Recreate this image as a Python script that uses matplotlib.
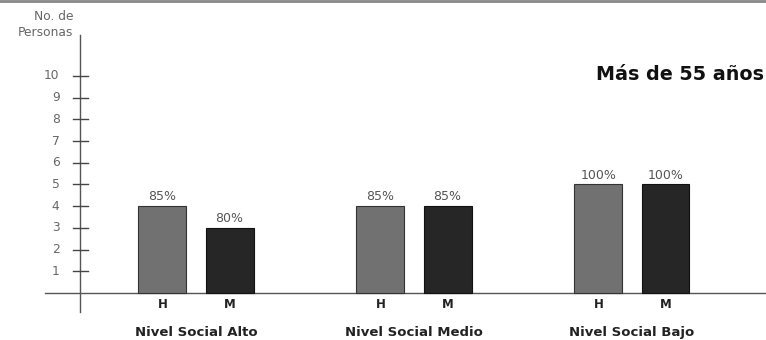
import matplotlib
matplotlib.use("Agg")
import matplotlib.pyplot as plt

groups = ["Nivel Social Alto", "Nivel Social Medio", "Nivel Social Bajo"]
sexes = ["H", "M"]
values_h = [4, 4, 5]
values_m = [3, 4, 5]
pct_h = ["85%", "85%", "100%"]
pct_m = ["80%", "85%", "100%"]
yticks = [1, 2, 3, 4, 5, 6, 7, 8, 9, 10]
title = "Más de 55 años"
ylabel_lines = ["No. de", "Personas"]

plt.rcParams['font.family'] = ['DejaVu Sans']

fig = plt.figure(figsize=(7.66, 3.40), dpi=100)
ax = fig.add_axes([0, 0, 1, 1])
ax.set_xlim(-0.899, 2.615)
ax.set_ylim(-2.166, 13.5)
ax.axis('off')

bw = 0.22
off = 0.154
col_h = "#717171"
col_m = "#262626"
for i in range(len(groups)):
    ax.bar(i - off, values_h[i], width=bw, color=col_h, edgecolor="#333333", linewidth=0.8, zorder=3)
    ax.bar(i + off, values_m[i], width=bw, color=col_m, edgecolor="#111111", linewidth=0.8, zorder=3)
    ax.text(i - off, values_h[i] + 0.13, pct_h[i], ha='center', va='bottom', fontsize=9, color="#555555")
    ax.text(i + off, values_m[i] + 0.13, pct_m[i], ha='center', va='bottom', fontsize=9, color="#555555")
    ax.text(i - off, -0.55, sexes[0], ha='center', va='center', fontsize=8.5, fontweight='bold', color="#222222")
    ax.text(i + off, -0.55, sexes[1], ha='center', va='center', fontsize=8.5, fontweight='bold', color="#222222")
    ax.text(i, -1.83, groups[i], ha='center', va='center', fontsize=9.5, fontweight='bold', color="#222222")

yaxis_x = -0.532
# axes lines
ax.plot([-0.693, 2.615], [0, 0], color="#555555", linewidth=1.0, zorder=2)
ax.plot([yaxis_x, yaxis_x], [-0.876, 11.89], color="#555555", linewidth=1.0, zorder=2)
for t in yticks:
    ax.plot([yaxis_x - 0.032, yaxis_x + 0.037], [t, t], color="#444444", linewidth=1.0)
    ax.text(yaxis_x - 0.094, t, str(t), ha='right', va='center', fontsize=8.8, color="#666666")

# y label
ax.text(yaxis_x - 0.03, 12.72, ylabel_lines[0], ha='right', va='center', fontsize=8.8, color="#666666")
ax.text(yaxis_x - 0.03, 11.98, ylabel_lines[1], ha='right', va='center', fontsize=8.8, color="#666666")

# title
ax.text(2.607, 10.05, title, ha='right', va='center', fontsize=13.8, fontweight='bold', color="#111111")

# top border
ax.plot([-0.899, 2.615], [13.45, 13.45], color="#888888", linewidth=2)

fig.savefig("out.png", dpi=100)
